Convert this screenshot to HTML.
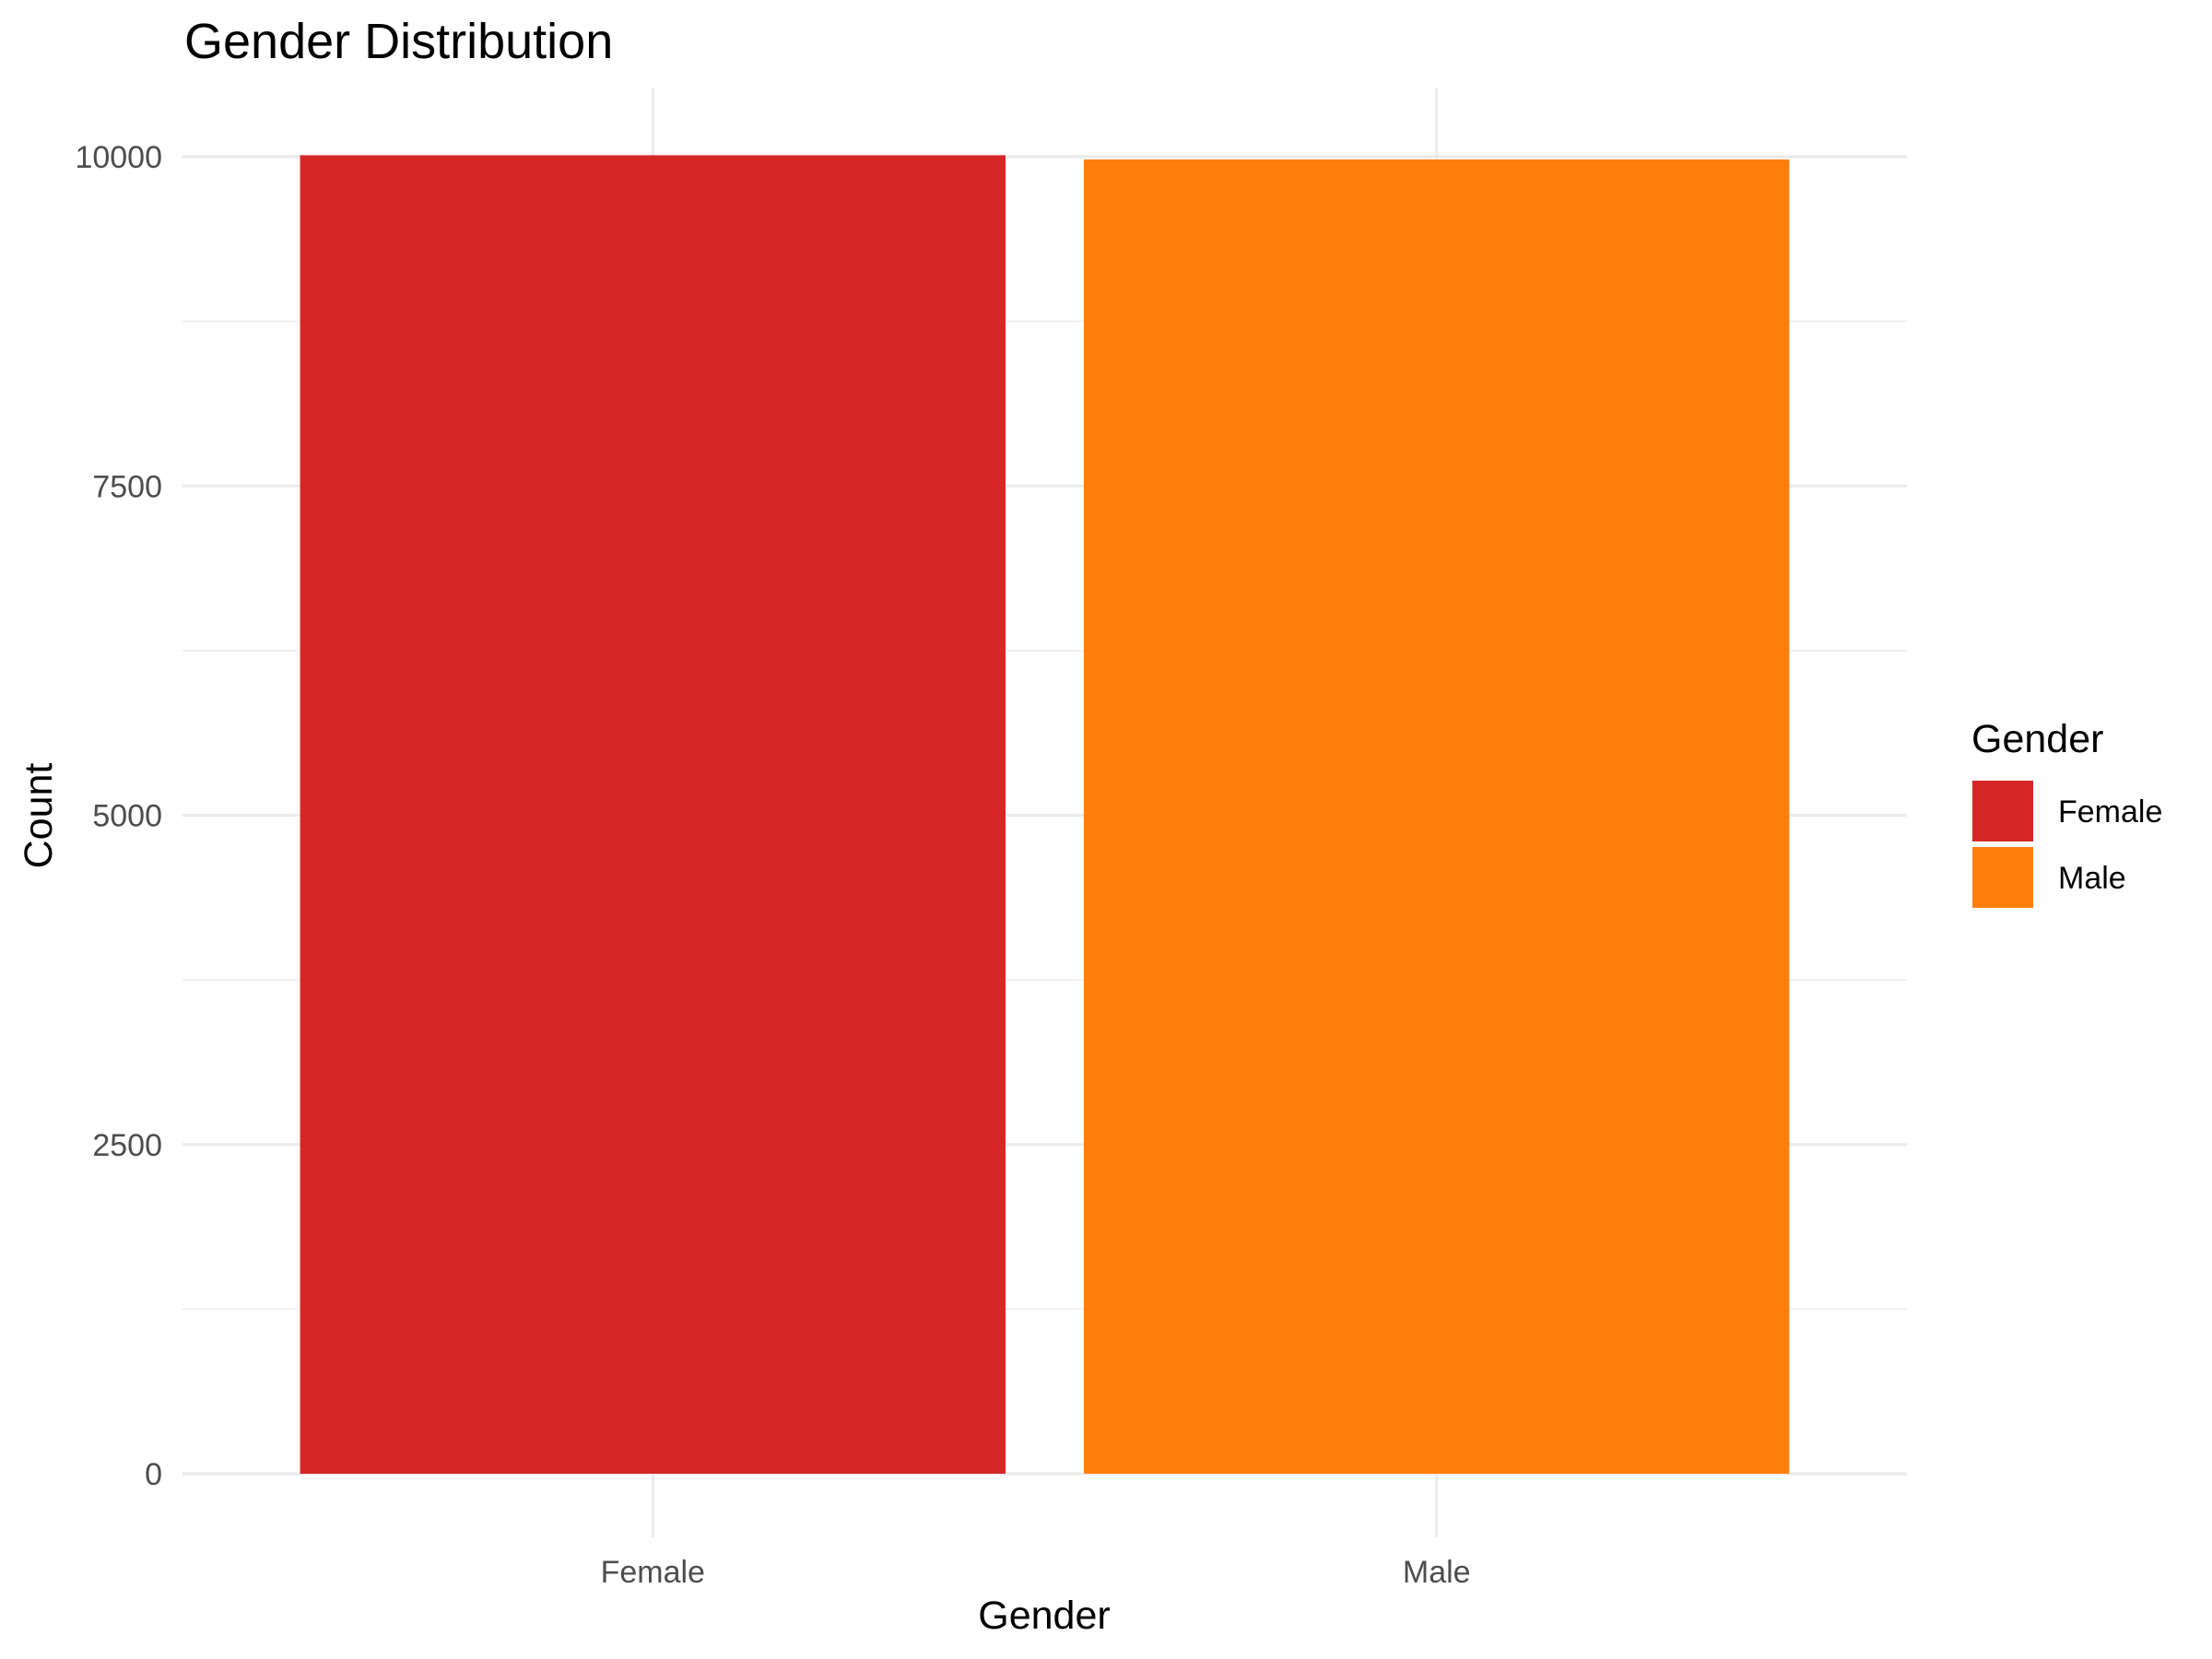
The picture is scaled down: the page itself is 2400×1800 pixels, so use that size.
<!DOCTYPE html>
<html><head><meta charset="utf-8"><style>
html,body{margin:0;padding:0;background:#fff;}
svg{display:block;font-family:"Liberation Sans",Arial,sans-serif;}
</style></head><body>
<svg id="chart" width="2400" height="1800" viewBox="0 0 2400 1800">
<rect width="2400" height="1800" fill="#fff"/>
<g id="grid"></g>
<g id="bars"></g>
<g id="yticks"></g>
<g id="xticks"></g>
<text x="200" y="63" font-size="54" fill="#000">Gender Distribution</text>
<text x="1133" y="1767" font-size="43" fill="#000" text-anchor="middle">Gender</text>
<text transform="translate(56,885) rotate(-90)" font-size="43" fill="#000" text-anchor="middle">Count</text>
<g id="legend">
<text x="2139" y="816" font-size="43" fill="#000">Gender</text>
</g>
</svg>
<script>
const categories = ["Female", "Male"];
const counts = [10011, 9979];
const colors = ["#d62728", "#ff7f0e"];
const yTicks = [0, 2500, 5000, 7500, 10000];
const yMinor = [1250, 3750, 6250, 8750];

const NS = "http://www.w3.org/2000/svg";
const panel = {left: 198, right: 2069, top: 95, bottom: 1668};
function yScale(v){ return 1599 - v * (1599 - 170) / 10000; }
function xScale(i){ const pos = i + 1; return panel.left + (pos - 0.4) * (panel.right - panel.left) / 2.2; }
const bandW = (panel.right - panel.left) / 2.2 * 0.9;

function mk(tag, attrs, parent){ const e = document.createElementNS(NS, tag); for (const k in attrs) e.setAttribute(k, attrs[k]); parent.appendChild(e); return e; }

const grid = document.getElementById("grid");
yMinor.forEach(v => {
  const l = mk("line", {x1: panel.left, x2: panel.right, y1: yScale(v), y2: yScale(v), stroke: "#ebebeb", "stroke-width": 1.6}, grid);
  
  
});
yTicks.forEach(v => {
  const l = mk("line", {x1: panel.left, x2: panel.right, y1: yScale(v), y2: yScale(v), stroke: "#ebebeb", "stroke-width": 3.2}, grid);
  
  
});
categories.forEach((c, i) => {
  const l = mk("line", {x1: xScale(i), x2: xScale(i), y1: panel.top, y2: panel.bottom, stroke: "#ebebeb", "stroke-width": 3.2}, grid);
  
  
});

const bars = document.getElementById("bars");
categories.forEach((c, i) => {
  const y = yScale(counts[i]);
  const r = mk("rect", {x: xScale(i) - bandW / 2, y: y, width: bandW, height: yScale(0) - y, fill: colors[i]}, bars);
  
  
});

const yt = document.getElementById("yticks");
yTicks.forEach(v => {
  const t = mk("text", {x: 176, y: yScale(v) + 12, "font-size": 34, fill: "#4d4d4d", "text-anchor": "end"}, yt);
  t.textContent = v;
  
  
});
const xt = document.getElementById("xticks");
categories.forEach((c, i) => {
  const t = mk("text", {x: xScale(i), y: 1717, "font-size": 34, fill: "#4d4d4d", "text-anchor": "middle"}, xt);
  t.textContent = c;
  
  
});

const lg = document.getElementById("legend");
categories.forEach((c, i) => {
  const y0 = 847 + i * 72;
  const r = mk("rect", {x: 2140, y: y0, width: 66, height: 66, fill: colors[i]}, lg);
  
  
  const t = mk("text", {x: 2233, y: y0 + 45, "font-size": 34, fill: "#000"}, lg);
  t.textContent = c;
  
  
});
</script>
</body></html>
